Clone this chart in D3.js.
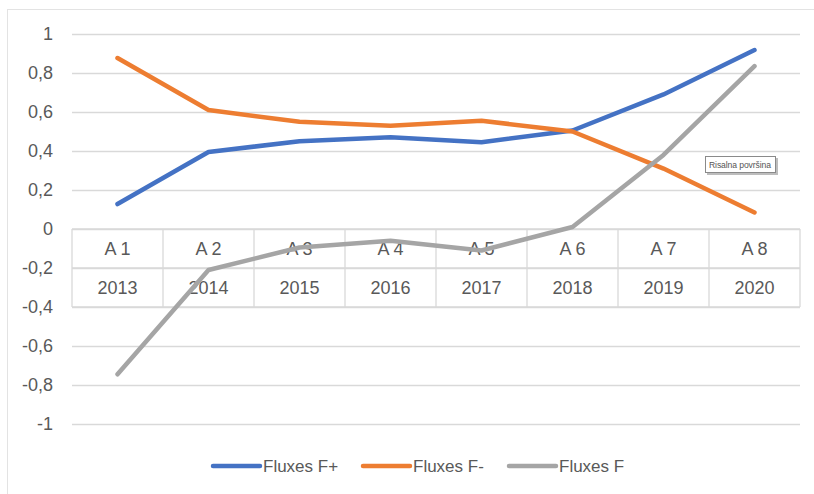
<!DOCTYPE html>
<html>
<head>
<meta charset="utf-8">
<script src="https://cdn.jsdelivr.net/npm/d3@7"></script>
<style>
  body { margin: 0; background: #fff; }
  svg { display: block; font-family: "Liberation Sans", Arial, sans-serif; }
</style>
</head>
<body>
<div id="chart"></div>
<script>
// categories and values
const codes = ["A 1", "A 2", "A 3", "A 4", "A 5", "A 6", "A 7", "A 8"];
const years = ["2013", "2014", "2015", "2016", "2017", "2018", "2019", "2020"];
const fluxPlus  = [0.128, 0.395, 0.45, 0.47, 0.445, 0.505, 0.69, 0.918];
const fluxMinus = [0.877, 0.61, 0.55, 0.53, 0.555, 0.50, 0.31, 0.085];
const fluxNet   = [-0.745, -0.21, -0.095, -0.06, -0.11, 0.01, 0.38, 0.835];
const yTicks = [1, 0.8, 0.6, 0.4, 0.2, 0, -0.2, -0.4, -0.6, -0.8, -1];

const series = [
    { name: "Fluxes F+", values: fluxPlus, color: "#4472C4" },
    { name: "Fluxes F-", values: fluxMinus, color: "#ED7D31" },
    { name: "Fluxes F", values: fluxNet, color: "#A5A5A5" }
];

const width = 814, height = 494;
const marginLeft = 72, marginRight = 14, marginTop = 34, marginBottom = 70;
const textColor = "#595959", gridColor = "#d9d9d9";

const svg = d3.select("#chart").append("svg")
    .attr("width", width)
    .attr("height", height);

// chart area frame (only top and left edges are visible in the picture)
svg.append("rect")
    .attr("x", 7.5).attr("y", 9.5)
    .attr("width", width).attr("height", height)
    .attr("fill", "none")
    .attr("stroke", "#e3e3e3");

const x = d3.scaleBand()
    .domain(years)
    .range([marginLeft, width - marginRight]);

const y = d3.scaleLinear()
    .domain([-1, 1])
    .range([height - marginBottom, marginTop]);

// horizontal gridlines and labels
const yAxis = d3.axisLeft(y)
    .tickValues(yTicks)
    .tickSize(-(width - marginLeft - marginRight))
    .tickPadding(19)
    .tickFormat(d => d3.format(".1~f")(d).replace(".", ",").replace("−", "-"));

svg.append("g")
    .attr("transform", `translate(${marginLeft},0)`)
    .call(yAxis)
    .call(g => g.select(".domain").remove())
    .call(g => g.selectAll(".tick line").attr("stroke", gridColor).attr("stroke-width", 1.3))
    .call(g => g.selectAll(".tick text")
        .attr("fill", textColor)
        .attr("font-size", 18)
        .attr("font-family", "Liberation Sans, Arial, sans-serif"));

// category table under the zero line
const row = y(0.8) - y(1);
const tableTop = y(0);
const table = svg.append("g")
    .attr("stroke", gridColor)
    .attr("stroke-width", 1.3);

[0, 1, 2].forEach(i => {
    table.append("line")
        .attr("x1", marginLeft).attr("x2", width - marginRight)
        .attr("y1", tableTop + i * row).attr("y2", tableTop + i * row);
});
[...years, null].forEach((yr, i) => {
    const xx = i < years.length ? x(yr) : x.range()[1];
    table.append("line")
        .attr("x1", xx).attr("x2", xx)
        .attr("y1", tableTop).attr("y2", tableTop + 2 * row);
});

const labels = svg.append("g")
    .attr("fill", textColor)
    .attr("font-size", 18)
    .attr("text-anchor", "middle");

labels.selectAll(".code")
    .data(codes)
    .join("text")
    .attr("class", "code")
    .attr("x", (d, i) => x(years[i]) + x.bandwidth() / 2)
    .attr("y", tableTop + row / 2)
    .attr("dy", "0.36em")
    .text(d => d);

labels.selectAll(".year")
    .data(years)
    .join("text")
    .attr("class", "year")
    .attr("x", d => x(d) + x.bandwidth() / 2)
    .attr("y", tableTop + row * 1.5)
    .attr("dy", "0.36em")
    .text(d => d);

// lines
const line = d3.line()
    .x((d, i) => x(years[i]) + x.bandwidth() / 2)
    .y(d => y(d));

svg.append("g")
    .selectAll("path")
    .data(series)
    .join("path")
    .attr("fill", "none")
    .attr("stroke", d => d.color)
    .attr("stroke-width", 4.5)
    .attr("stroke-linecap", "round")
    .attr("stroke-linejoin", "round")
    .attr("d", d => line(d.values));

// legend
const legendX = [213, 363, 509];
const legend = svg.append("g")
    .selectAll("g")
    .data(series)
    .join("g")
    .attr("transform", (d, i) => `translate(${legendX[i]},466)`);

legend.append("line")
    .attr("x1", 0).attr("x2", 47)
    .attr("stroke", d => d.color)
    .attr("stroke-width", 4.5)
    .attr("stroke-linecap", "round");

legend.append("text")
    .attr("x", 50)
    .attr("dy", "0.36em")
    .attr("fill", textColor)
    .attr("font-size", 17)
    .text(d => d.name);

// tooltip left over in the screenshot
const tip = svg.append("g").attr("transform", "translate(705,156)");
tip.append("rect")
    .attr("x", 2).attr("y", 2)
    .attr("width", 71).attr("height", 17)
    .attr("fill", "#bdbdbd");
tip.append("rect")
    .attr("x", 0.5).attr("y", 0.5)
    .attr("width", 70).attr("height", 16)
    .attr("fill", "#fff")
    .attr("stroke", "#8a8a8a");
tip.append("text")
    .attr("x", 4).attr("y", 12)
    .attr("font-size", 8.6)
    .attr("textLength", 62)
    .attr("fill", "#555")
    .text("Risalna površina");
</script>
</body>
</html>
